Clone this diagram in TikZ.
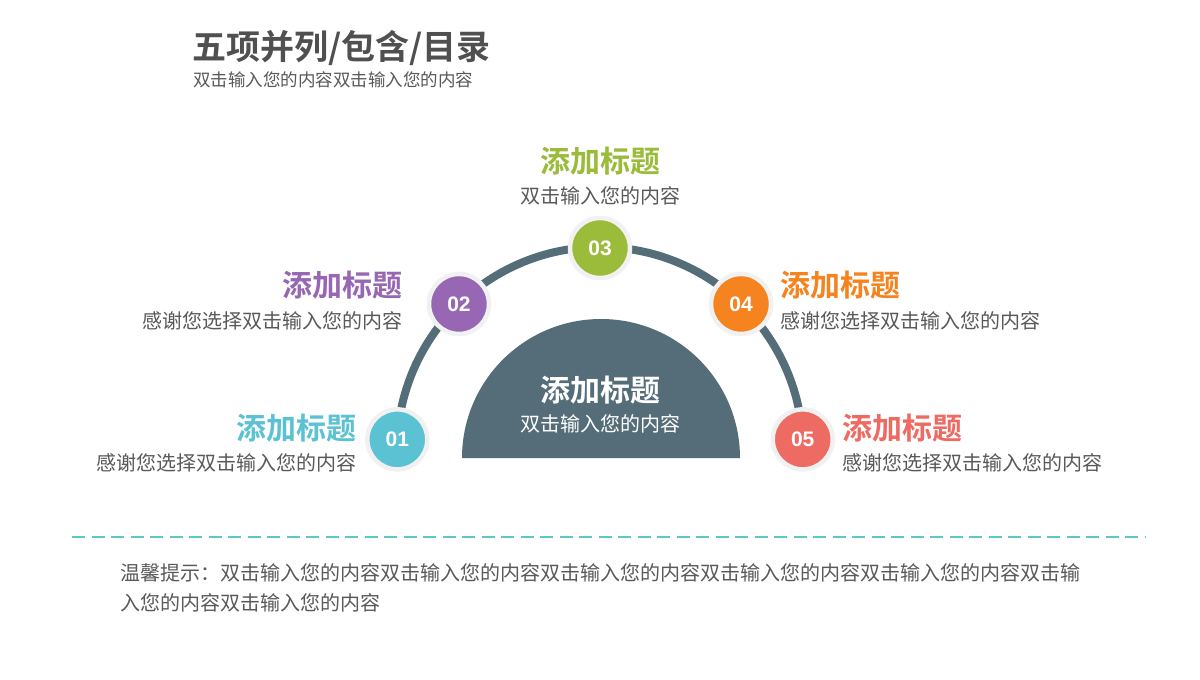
\documentclass[tikz,border=0pt]{standalone}
\usepackage{fontspec}
\setmainfont{Noto Sans CJK SC}[BoldFont={Noto Sans CJK SC Bold}]
\newfontfamily\numfont{Liberation Sans}
\definecolor{cA}{HTML}{5BC2D3}
\definecolor{cB}{HTML}{9767B3}
\definecolor{cC}{HTML}{9BBB3B}
\definecolor{cD}{HTML}{F5831F}
\definecolor{cE}{HTML}{EE6B63}
\definecolor{slate}{HTML}{546D78}
\definecolor{txt}{HTML}{595959}
\definecolor{ttl}{HTML}{505050}
\definecolor{sepcol}{HTML}{5CC8CA}
\definecolor{halo}{HTML}{F1F1F1}
\begin{document}
\begin{tikzpicture}[x=1pt,y=-1pt,
  numc/.style={circle,minimum size=60pt,inner sep=0pt,fill=#1,draw=halo,line width=4.5pt,
    text=white,font=\numfont\bfseries\fontsize{21}{21}\selectfont},
  lbl/.style={inner sep=0pt,text=#1,font=\bfseries\fontsize{30}{30}\selectfont},
  sub/.style={inner sep=0pt,text=txt,font=\fontsize{20}{20}\selectfont}]
\useasboundingbox[fill=white] (0,0) rectangle (1200,680);
% title
\node[anchor=west,inner sep=0pt,text=ttl,font=\bfseries\fontsize{34}{34}\selectfont] (title) at (192,48) {五项并列/包含/目录};
\node[anchor=west,inner sep=0pt,text=txt,font=\fontsize{17.5}{17.5}\selectfont] (subtitle) at (193,80) {双击输入您的内容双击输入您的内容};
% center semi-disk
\coordinate (cc) at (601,458);
\fill[slate] (462,458) arc[start angle=180,end angle=360,radius=139] -- cycle;
\node[lbl=white] (ctitle) at (600,390) {添加标题};
\node[sub,text=white] (csub) at (600,424) {双击输入您的内容};
% arc
\coordinate (ac) at (600,450);
\draw[slate,line width=8pt] ([shift={(183:203)}]ac) arc[start angle=183,end angle=357,radius=203];
% circles
\node[numc=cA] (n1) at ([shift={(183:203)}]ac) {01};
\node[numc=cB] (n2) at ([shift={(226:203)}]ac) {02};
\node[numc=cC] (n3) at ([shift={(270:202)}]ac) {03};
\node[numc=cD] (n4) at ([shift={(314:203)}]ac) {04};
\node[numc=cE] (n5) at ([shift={(357:203)}]ac) {05};
% labels
\node[lbl=cC] (t3) at (600,161) {添加标题};
\node[sub] (s3) at (600,196) {双击输入您的内容};
\node[lbl=cB,anchor=east] (t2) at (403,285) {添加标题};
\node[sub,anchor=east] (s2) at (403,321) {感谢您选择双击输入您的内容};
\node[lbl=cD,anchor=west] (t4) at (780,285) {添加标题};
\node[sub,anchor=west] (s4) at (780,321) {感谢您选择双击输入您的内容};
\node[lbl=cA,anchor=east] (t1) at (357,428) {添加标题};
\node[sub,anchor=east] (s1) at (357,463) {感谢您选择双击输入您的内容};
\node[lbl=cE,anchor=west] (t5) at (842,428) {添加标题};
\node[sub,anchor=west] (s5) at (842,463) {感谢您选择双击输入您的内容};
% dashed separator
\coordinate (d1) at (72,537);
\coordinate (d2) at (1146,537);
\draw[sepcol,line width=2pt,dash pattern=on 13pt off 6.5pt] (d1) -- (d2);
% note
\node[anchor=north west,inner sep=0pt,text=txt,align=left,font=\fontsize{20}{30}\selectfont] (note) at (120,563)
 {温馨提示：双击输入您的内容双击输入您的内容双击输入您的内容双击输入您的内容双击输入您的内容双击输\\入您的内容双击输入您的内容};
\end{tikzpicture}
\end{document}
